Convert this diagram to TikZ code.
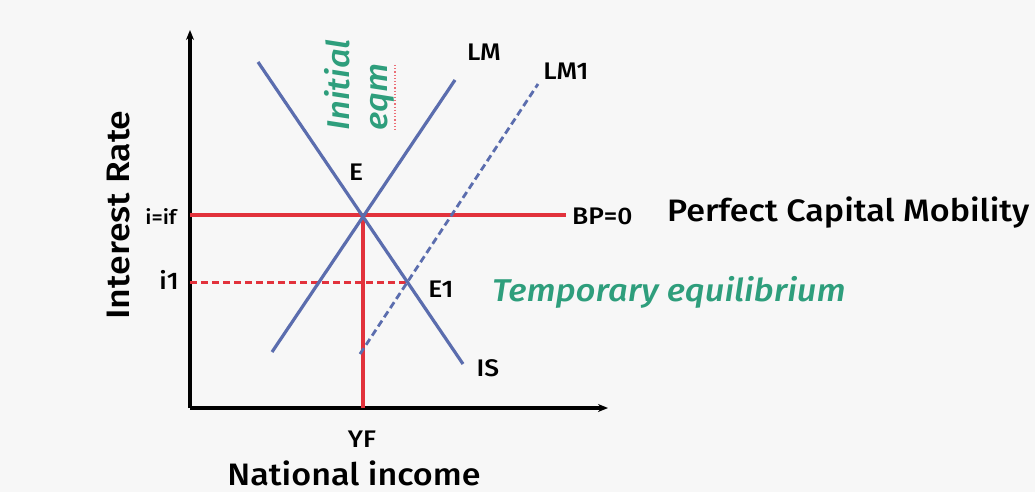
\documentclass[tikz,border=0pt]{standalone}
\usepackage{fontspec}
\setmainfont{Fira Sans}[UprightFont={* Medium}, ItalicFont={* Medium Italic}, FakeStretch=1.1]
\usetikzlibrary{arrows.meta}
\definecolor{bgc}{HTML}{F7F7F7}
\definecolor{curveblue}{HTML}{5B6DAE}
\definecolor{bpred}{HTML}{E2323C}
\definecolor{noteg}{HTML}{2E9E7C}
\tikzset{
  axisline/.style={line width=4pt, black, -{Stealth[length=10pt,width=8pt]}},
  curve/.style={line width=3.2pt, curveblue},
  curvedash/.style={line width=2.8pt, curveblue, dash pattern=on 7pt off 4pt},
  redline/.style={line width=3.4pt, bpred},
  reddash/.style={line width=3pt, bpred, dash pattern=on 7pt off 4pt},
  lbl/.style={inner sep=0pt, font=\fontsize{24}{28}\selectfont},
  small/.style={inner sep=0pt, font=\fontsize{20}{22}\selectfont},
  big/.style={inner sep=0pt, font=\fontsize{31}{36}\selectfont},
  note/.style={inner sep=0pt, text=noteg, font=\fontsize{31.5}{36}\selectfont\itshape},
}
\begin{document}
\begin{tikzpicture}[x=1pt,y=-1pt]
\fill[bgc] (0,0) rectangle (1035,492);
\useasboundingbox (0,0) rectangle (1035,492);
% axes
\coordinate (O) at (190,408);
\coordinate (ytop) at (190,30);
\coordinate (xend) at (608,408);
\draw[axisline] (O) -- (ytop);
\draw[axisline] (O) -- (xend);
% key points
\coordinate (bpL) at (190,215);
\coordinate (bpR) at (566,215);
\coordinate (E) at (363,215);
\coordinate (Ybase) at (363,408);
\coordinate (i1L) at (190,282);
\coordinate (E1) at (406,282);
\coordinate (ISa) at (258,62);
\coordinate (ISb) at (463,364);
\coordinate (LMa) at (272,352);
\coordinate (LMb) at (455,80);
\coordinate (LM1a) at (360,354);
\coordinate (LM1b) at (538,84);
% curves
\draw[redline] (bpL) -- (bpR);
\draw[redline] (E) -- (Ybase);
\draw[reddash] (i1L) -- (E1);
\draw[curve] (ISa) -- (ISb);
\draw[curve] (LMa) -- (LMb);
\draw[curvedash] (LM1a) -- (LM1b);
% labels
\node[lbl] (lLM) at (484,52) {LM};
\node[lbl] (lLM1) at (566,71) {LM1};
\node[lbl] (lE) at (356,172) {E};
\node[lbl] (lE1) at (441,289) {E1};
\node[lbl] (lIS) at (488,368) {IS};
\node[lbl, anchor=west] (lBP) at (572,216) {BP=0};
\node[small] (lif) at (161,217) {i=if};
\node[lbl] (li1) at (169,280) {i1};
\node[lbl] (lYF) at (362,439) {YF};
\node[big, anchor=west] (lPCM) at (667,213) {Perfect Capital Mobility};
\node[big] (lNI) at (354,473) {National income};
\node[big, rotate=90, font=\fontsize{32.5}{36}\selectfont] (lIR) at (119,215) {Interest Rate};
\node[note, anchor=west] (lTE) at (492,292) {Temporary equilibrium};
\node[note, rotate=90, anchor=west] (lInit) at (337,131) {Initial};
\node[note, rotate=90, anchor=west] (leqm) at (382,131) {eqm};
\draw[bpred!70, line width=1.2pt, dotted] (395,65) -- (395,130);
\end{tikzpicture}
\end{document}
